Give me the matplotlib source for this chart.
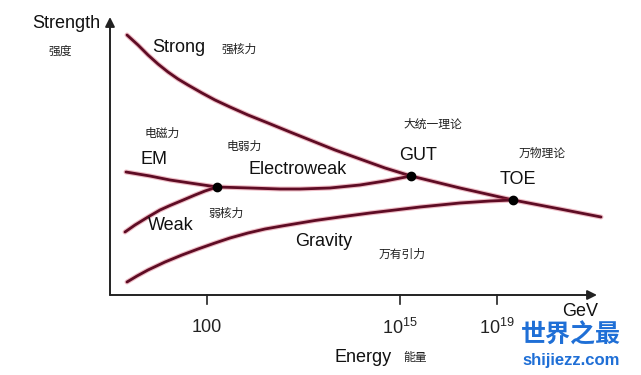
import matplotlib.pyplot as plt
from matplotlib.patches import FancyArrowPatch

plt.rcParams['font.family'] = ['Liberation Sans', 'Noto Sans CJK SC', 'DejaVu Sans']
plt.rcParams['mathtext.fontset'] = 'custom'
plt.rcParams['mathtext.rm'] = 'Liberation Sans'
plt.rcParams['mathtext.it'] = 'Liberation Sans'

# ==== Data (schematic units: x = energy position, y = strength) ====
strong_x = [17, 28, 38, 48, 58, 68, 78, 92, 105, 120, 138, 158, 180, 200, 225, 250, 275, 301,
            350, 403, 450, 491]
strong_y = [260, 250, 240, 231, 223, 216, 210, 202, 195, 188, 180, 172, 163, 155, 145, 136, 127, 119,
            107, 95, 86, 78]

em_x = [16, 40, 60, 80, 107]
em_y = [123, 119, 115, 112, 108]

weak_x = [15, 25, 38, 50, 60, 72, 85, 95, 107]
weak_y = [63, 70, 78, 85, 89.5, 94.5, 100, 104, 108]

ew_x = [107, 140, 170, 190, 220, 250, 275, 301]
ew_y = [108, 107, 106, 106, 107, 110, 114, 119]

gravity_x = [17, 27, 38, 55, 72, 88, 105, 120, 138, 155, 172, 190, 205, 230, 260, 285, 310, 350,
             380, 403]
gravity_y = [13, 19, 25, 33, 40, 46, 52, 57, 62, 66, 69, 72, 74.5, 78, 82, 85, 88, 92,
             94, 95]

unify_x = [107, 301, 403]
unify_y = [108, 119, 95]

tick_pos = [97, 290, 387]
tick_labels = ['100', '10$^{15}$', '10$^{19}$']

curve_color = '#5e0c24'

fig = plt.figure(figsize=(6.41, 3.75), dpi=100)
ax = fig.add_axes([0, 0, 1, 1])
ax.set_xlim(-110, 531)
ax.set_ylim(-80, 295)
ax.axis('off')

# axes arrows
ax.add_patch(FancyArrowPatch((0, 0), (487, 0), arrowstyle='-|>', mutation_scale=14,
                             color='#222222', lw=1.4, shrinkA=0, shrinkB=0))
ax.add_patch(FancyArrowPatch((0, 0), (0, 278), arrowstyle='-|>', mutation_scale=14,
                             color='#222222', lw=1.4, shrinkA=0, shrinkB=0))

for p in tick_pos:
    ax.plot([p, p], [0, -9], color='#222222', lw=1.2)
for p, lab in zip(tick_pos, tick_labels):
    ax.text(p, -33, lab, ha='center', va='center', fontsize=13, color='#222222')

# curves
for xs, ys in [(strong_x, strong_y), (em_x, em_y), (weak_x, weak_y),
               (ew_x, ew_y), (gravity_x, gravity_y)]:
    ax.plot(xs, ys, color='#d0405a', lw=3.6, alpha=0.35, solid_capstyle='round',
            solid_joinstyle='round')
    ax.plot(xs, ys, color=curve_color, lw=2.0, solid_capstyle='round',
            solid_joinstyle='round')

ax.plot(unify_x, unify_y, 'o', color='black', ms=6)

# labels
big = dict(fontsize=13, color='#111111', va='center')
small = dict(fontsize=8.5, color='#222222', va='center')

ax.text(-78, 272, 'Strength', **big)
ax.text(-62, 243, '强度', **small)
ax.text(42, 248, 'Strong', **big)
ax.text(111, 245, '强核力', **small)
ax.text(35, 161, '电磁力', **small)
ax.text(31, 135, 'EM', **big)
ax.text(117, 148, '电弱力', **small)
ax.text(138, 125, 'Electroweak', **big)
ax.text(293, 170, '大统一理论', **small)
ax.text(289, 140, 'GUT', **big)
ax.text(409, 141, '万物理论', **small)
ax.text(390, 115, 'TOE', **big)
ax.text(98, 81, '弱核力', **small)
ax.text(38, 69, 'Weak', **big)
ax.text(185, 54, 'Gravity', **big)
ax.text(269, 40, '万有引力', **small)
ax.text(452, -17, 'GeV', **big)
ax.text(225, -62, 'Energy', **big)
ax.text(293, -63, '能量', **small)

# watermark
ax.text(461, -40, '世界之最', fontsize=18, fontweight='bold', color='#1f6fd6',
        ha='center', va='center', family=['Noto Sans CJK SC'])
ax.text(461, -65, 'shijiezz.com', fontsize=12, fontweight='bold', color='#1f6fd6',
        ha='center', va='center')

fig.savefig('out.png', dpi=100, facecolor='white')
